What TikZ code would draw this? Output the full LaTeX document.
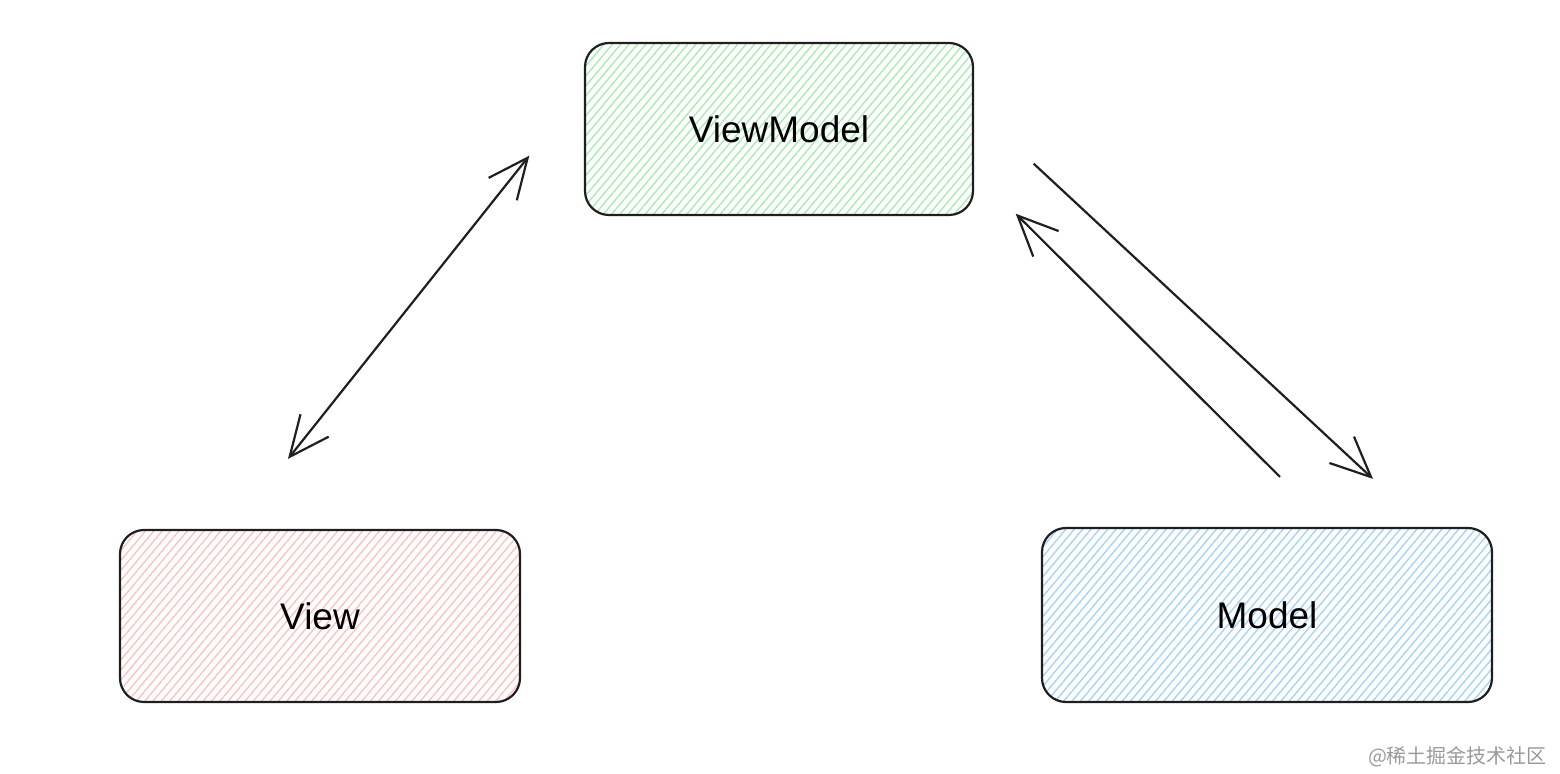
\documentclass[tikz,border=0pt]{standalone}
\usepackage{fontspec}
\setmainfont{Liberation Sans}
\newfontfamily\cjk{Noto Sans CJK SC}
\usetikzlibrary{calc,arrows.meta,patterns.meta}

\definecolor{vmgreen}{HTML}{A9EBB4}
\definecolor{viewpink}{HTML}{FFC2C2}
\definecolor{modelblue}{HTML}{A5D3FA}

\tikzset{
  box/.style={draw=black!88, line width=1.1pt, rounded corners=12pt, font=\fontsize{18.5}{20}\selectfont},
  hatch/.style={pattern={Lines[angle=50,distance=3.2pt,line width=0.7pt]}, pattern color=#1},
  link/.style={line width=1.1pt, draw=black!88},
  barb/.tip={Straight Barb[length=20pt,width=18pt]}
}

\begin{document}
\begin{tikzpicture}[x=0.5pt,y=-0.5pt]
	%%%%% START %%%%%
	\useasboundingbox (0,0) rectangle (1560,774);
	
	\node[box, hatch=vmgreen, minimum width=194pt, minimum height=86pt] (vm) at (779,129) {ViewModel};
	\node[box, hatch=viewpink, minimum width=200pt, minimum height=86pt] (view) at (320,616) {View};
	\node[box, hatch=modelblue, minimum width=225pt, minimum height=87pt] (model) at (1267,615) {Model};
	
	\coordinate (vmL) at ($(vm.south west)+(-55,-60)$);
	\coordinate (viewT) at ($(view.north)+(-32,-70)$);
	\draw[link, barb-barb] (viewT) -- (vmL);
	
	\coordinate (vmR) at ($(vm.south east)+(60,-52)$);
	\coordinate (modelT) at ($(model.north)+(106,-48)$);
	\draw[link, -barb] (vmR) -- (modelT);
	
	\coordinate (modelL) at ($(model.north)+(13,-50)$);
	\coordinate (vmB) at ($(vm.south east)+(42,-2)$);
	\draw[link, -barb] (modelL) -- (vmB);
	
	\node[font=\cjk\fontsize{10}{12}\selectfont, text=black!40, anchor=east] (mark) at (1554,757) {@稀土掘金技术社区};
	%%%%% END %%%%%
\end{tikzpicture}
\end{document}
